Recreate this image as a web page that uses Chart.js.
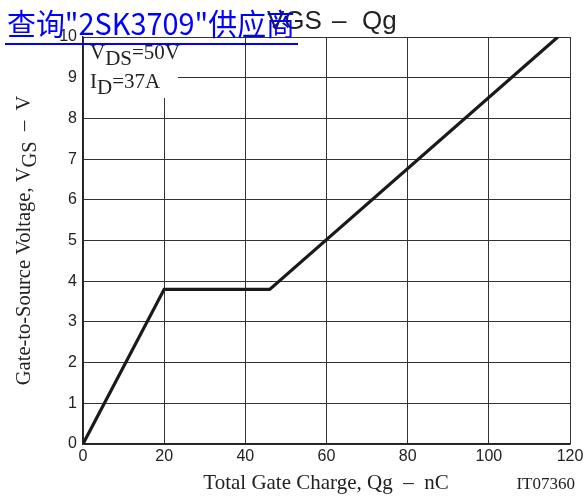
<!DOCTYPE html>
<html>
<head>
<meta charset="utf-8">
<script src="https://cdn.jsdelivr.net/npm/chart.js@4.4.0/dist/chart.umd.min.js"></script>
<style>
  html, body { margin: 0; padding: 0; background: #fff; }
  #wrap { width: 587px; height: 497px; position: relative; }
</style>
</head>
<body>
<div id="wrap"><canvas id="chartVgs" width="587" height="497"></canvas></div>
<script>
// data
const qgValues = [0, 20, 46, 117];
const vgsValues = [0, 3.8, 3.8, 10];
const xTicks = [0, 20, 40, 60, 80, 100, 120];
const yTicks = [0, 1, 2, 3, 4, 5, 6, 7, 8, 9, 10];

const serif = '"Liberation Serif", "Times New Roman", serif';
const sans = '"Liberation Sans", Arial, sans-serif';

// draws text with a subscript part: parts = [[text, isSub], ...]
function drawParts(ctx, parts, x, y, size) {
    let cx = x;
    parts.forEach(p => {
        ctx.font = size + 'px ' + serif;
        ctx.fillText(p[0], cx, p[1] ? y + size * 0.3 : y);
        cx += ctx.measureText(p[0]).width;
    });
    return cx - x;
}
function partsWidth(ctx, parts, size) {
    let w = 0;
    parts.forEach(p => {
        ctx.font = size + 'px ' + serif;
        w += ctx.measureText(p[0]).width;
    });
    return w;
}

const extras = {
    id: 'extras',
    beforeDatasetsDraw(chart) {
        const ctx = chart.ctx, a = chart.chartArea;
        // condition box over the grid
        ctx.save();
        ctx.fillStyle = '#fff';
        ctx.fillRect(a.left + 1, a.top + 1, 94, 60);
        ctx.fillStyle = '#222';
        ctx.textAlign = 'left';
        ctx.textBaseline = 'alphabetic';
        drawParts(ctx, [['V', false], ['DS', true], ['=50V', false]], a.left + 7, a.top + 22, 21);
        drawParts(ctx, [['I', false], ['D', true], ['=37A', false]], a.left + 7, a.top + 51, 21);
        ctx.restore();
    },
    afterDraw(chart) {
        const ctx = chart.ctx, a = chart.chartArea;
        ctx.save();
        ctx.fillStyle = '#222';
        ctx.textBaseline = 'alphabetic';

        // y axis title
        const yParts = [['Gate-to-Source Voltage, V', false], ['GS', true], ['  \u2013  V', false]];
        ctx.save();
        ctx.translate(30, (a.top + a.bottom) / 2);
        ctx.rotate(-Math.PI / 2);
        const yw = partsWidth(ctx, yParts, 20.5);
        drawParts(ctx, yParts, -yw / 2, 0, 20.5);
        ctx.restore();

        // x axis title
        ctx.font = '21px ' + serif;
        ctx.textAlign = 'center';
        ctx.fillText('Total Gate Charge, Qg  \u2013  nC', 326, 489);
        ctx.font = '17px ' + serif;
        ctx.textAlign = 'right';
        ctx.fillText('IT07360', 575, 489);

        // chart title
        ctx.font = '26px ' + sans;
        ctx.textAlign = 'left';
        ctx.fillStyle = '#222';
        ctx.fillText('VGS', 267, 29);
        ctx.fillText('\u2013', 332, 29);
        ctx.fillText('Qg', 362, 29);

        // blue link overlay
        const link = '查询"2SK3709"供应商';
        ctx.font = '30px "Noto Sans CJK SC", sans-serif';
        ctx.fillStyle = '#0000ff';
        const lw = ctx.measureText(link).width;
        ctx.save();
        ctx.translate(7, 35);
        ctx.scale(288 / lw, 1);
        ctx.fillText(link, 0, 0);
        ctx.restore();
        ctx.fillRect(5, 43, 293, 2);
        ctx.restore();
    }
};

new Chart(document.getElementById('chartVgs'), {
    type: 'line',
    data: {
        datasets: [{
            data: qgValues.map((q, i) => ({ x: q, y: vgsValues[i] })),
            borderColor: '#1a1a1a',
            borderWidth: 3.2,
            pointRadius: 0,
            fill: false,
            tension: 0
        }]
    },
    options: {
        responsive: false,
        animation: false,
        devicePixelRatio: 1,
        layout: { padding: { top: 37, right: 17, left: 0, bottom: 0 } },
        plugins: { legend: { display: false }, tooltip: { enabled: false } },
        scales: {
            x: {
                type: 'linear',
                min: 0, max: 120,
                afterBuildTicks: s => { s.ticks = xTicks.map(v => ({ value: v })); },
                afterFit: s => { s.height = 53; },
                grid: { color: '#333', lineWidth: 1, drawTicks: false },
                border: { color: '#222', width: 1.5 },
                ticks: { color: '#222', font: { family: sans, size: 16 }, padding: 3, maxRotation: 0 }
            },
            y: {
                type: 'linear',
                min: 0, max: 10,
                afterBuildTicks: s => { s.ticks = yTicks.map(v => ({ value: v })); },
                afterFit: s => { s.width = 83; },
                grid: { color: '#333', lineWidth: 1, drawTicks: false },
                border: { color: '#222', width: 1.5 },
                ticks: { color: '#222', font: { family: sans, size: 16 }, padding: 6 }
            }
        }
    },
    plugins: [extras]
});
</script>
</body>
</html>
